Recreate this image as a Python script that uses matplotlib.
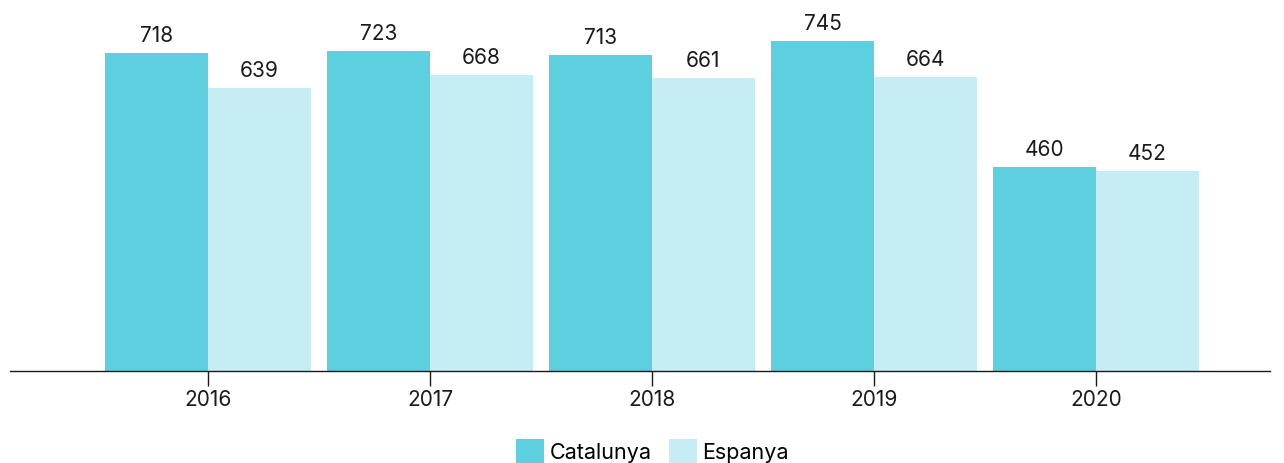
import matplotlib.pyplot as plt
import numpy as np

plt.rcParams['font.family'] = ['Inter', 'DejaVu Sans']

# visitors per year
years = ['2016', '2017', '2018', '2019', '2020']
catalunya = [718, 723, 713, 745, 460]
espanya = [639, 668, 661, 664, 452]

color_cat = '#5dd0e0'
color_esp = '#c6edf4'

fig = plt.figure(figsize=(12.84, 4.63), dpi=100)
ax = fig.add_axes([10 / 1284, 92 / 463, 1260 / 1284, 371 / 463])

x = np.arange(len(years))
w = 0.464
bars_cat = ax.bar(x - w / 2, catalunya, w, color=color_cat, label='Catalunya')
bars_esp = ax.bar(x + w / 2, espanya, w, color=color_esp, label='Espanya')

for bars in (bars_cat, bars_esp):
    for b in bars:
        ax.annotate(str(int(b.get_height())), (b.get_x() + b.get_width() / 2, b.get_height()),
                    xytext=(0, 5), textcoords='offset points', ha='center', va='bottom',
                    fontsize=15, color='#1a1a1a')

ax.set_xlim(-0.892, 4.784)
ax.set_ylim(0, 838)
ax.set_xticks(x)
ax.set_xticklabels(years, fontsize=15, color='#1a1a1a')
ax.set_yticks([])
ax.tick_params(axis='x', length=11, width=1, color='#1a1a1a', pad=3)
for side in ('left', 'right', 'top'):
    ax.spines[side].set_visible(False)
ax.spines['bottom'].set_color('#1a1a1a')
ax.spines['bottom'].set_linewidth(1)

fig.legend(loc='upper center', bbox_to_anchor=(0.508, 0.07), ncol=2, frameon=False,
           fontsize=15.5, handlelength=1.3, handleheight=1.4, columnspacing=0.8,
           handletextpad=0.25, borderaxespad=0)

fig.savefig('out.png', dpi=100)
